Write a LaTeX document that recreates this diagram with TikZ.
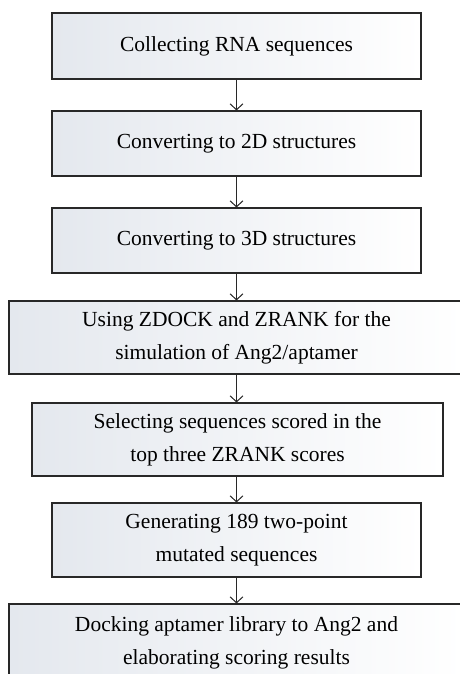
\documentclass[tikz,border=0pt]{standalone}
\usepackage{fontspec}
\setmainfont{Liberation Serif}
\usetikzlibrary{arrows.meta}
\definecolor{boxl}{RGB}{228,232,238}
\definecolor{edge}{RGB}{40,40,40}
\tikzset{
  stepbox/.style={draw=edge, line width=1.1pt, left color=boxl, right color=white,
    rectangle, align=center, inner sep=0pt, text=black,
    font=\fontsize{21.5}{33}\selectfont},
  arr/.style={draw=edge, line width=1pt, -{Straight Barb[length=6pt,width=13pt]}}
}
\begin{document}
\begin{tikzpicture}[x=1pt,y=1pt]
\useasboundingbox (0,0) rectangle (460,-674);
\clip (0,0) rectangle (460,-674);
\fill[white] (0,0) rectangle (460,-674);
\node[stepbox, minimum width=369, minimum height=66] (b1) at (236.5,-46) {Collecting RNA sequences};
\node[stepbox, minimum width=369, minimum height=65] (b2) at (236.5,-143.5) {Converting to 2D structures};
\node[stepbox, minimum width=369, minimum height=65] (b3) at (236.5,-240.5) {Converting to 3D structures};
\node[stepbox, minimum width=455, minimum height=73] (b4) at (236.5,-337.5) {Using ZDOCK and ZRANK for the\\simulation of Ang2/aptamer};
\node[stepbox, minimum width=411, minimum height=73] (b5) at (237.5,-439.5) {Selecting sequences scored in the\\top three ZRANK scores};
\node[stepbox, minimum width=369, minimum height=74] (b6) at (236.5,-540) {Generating 189 two-point\\mutated sequences};
\node[stepbox, minimum width=455, minimum height=77] (b7) at (236.5,-642.5) {Docking aptamer library to Ang2 and\\elaborating scoring results};
\draw[arr] (b1.south) -- (b2.north);
\draw[arr] (b2.south) -- (b3.north);
\draw[arr] (b3.south) -- (b4.north);
\draw[arr] (b4.south) -- (b4.south |- b5.north);
\draw[arr] (b4.south |- b5.south) -- (b6.north);
\draw[arr] (b6.south) -- (b7.north);
\end{tikzpicture}
\end{document}
